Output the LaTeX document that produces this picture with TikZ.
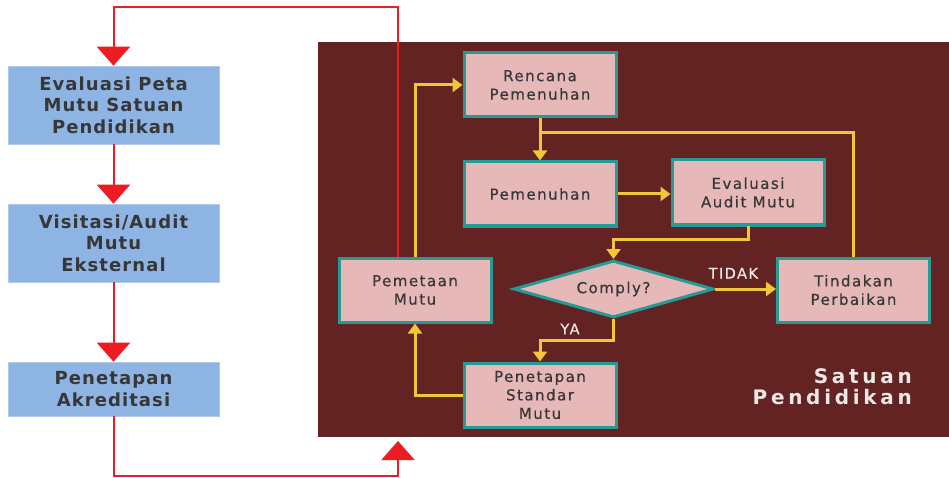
\documentclass[tikz,border=0pt]{standalone}
\usepackage{fontspec}
\setmainfont{DejaVu Sans}
\newfontfamily\outerfont[LetterSpace=6]{DejaVu Sans}
\newfontfamily\stagefont[LetterSpace=10,FakeBold=0.6]{DejaVu Sans}
\newfontfamily\labelfont[LetterSpace=10,FakeBold=0.4]{DejaVu Sans}
\newfontfamily\panelfont[LetterSpace=18.5]{DejaVu Sans}
\usetikzlibrary{arrows.meta,shapes.geometric}
\definecolor{panelbg}{RGB}{98,35,34}
\definecolor{boxblue}{RGB}{141,180,226}
\definecolor{boxpink}{RGB}{230,185,184}
\definecolor{boxteal}{RGB}{38,155,150}
\definecolor{flowyellow}{RGB}{244,196,58}
\definecolor{loopred}{RGB}{237,28,36}
\definecolor{inktext}{RGB}{55,55,55}
\definecolor{paneltext}{RGB}{238,232,232}
\tikzset{
  outerbox/.style={fill=boxblue, draw=boxblue!70!white, line width=0.6pt,
    minimum width=211pt, inner sep=0pt, align=center, text=inktext,
    font=\outerfont\bfseries\fontsize{18}{21.5}\selectfont},
  stagebox/.style={fill=boxpink, draw=boxteal, line width=3pt,
    minimum width=152pt, minimum height=64pt, inner sep=0pt, align=center,
    text=inktext, font=\stagefont\fontsize{15}{18.5}\selectfont},
  decision/.style={diamond, aspect=3.4, fill=boxpink, draw=boxteal, line width=3pt,
    minimum width=200pt, minimum height=57pt, inner sep=0pt, text=inktext,
    font=\stagefont\fontsize{15}{18}\selectfont},
  redflow/.style={draw=loopred, line width=2pt},
  redtip/.style={-{Triangle[width=33pt,length=19pt]}},
  yellowflow/.style={draw=flowyellow, line width=3pt},
  yellowtip/.style={-{Triangle[width=14pt,length=10pt]}},
  flowlabel/.style={text=paneltext, font=\labelfont\fontsize{14.5}{16}\selectfont, inner sep=0pt},
}
\begin{document}
\begin{tikzpicture}[x=1pt,y=-1pt]
  \useasboundingbox (0,0) rectangle (949,478);
  % the school panel
  \fill[panelbg] (318,42) rectangle (949,437);
  \node[anchor=north east, align=right, inner sep=0pt, text=paneltext,
        font=\panelfont\bfseries\fontsize{20}{21.5}\selectfont] (panel) at (912,368)
        {Satuan\\Pendidikan};

  % external accreditation chain
  \node[outerbox, minimum height=78pt] (ev) at (113.5,105) {Evaluasi Peta\\Mutu Satuan\\Pendidikan};
  \node[outerbox, minimum height=78pt] (va) at (113.5,243) {Visitasi/Audit\\Mutu\\Eksternal};
  \node[outerbox, minimum height=54pt] (pa) at (113.5,389) {Penetapan\\Akreditasi};

  % internal quality cycle
  \node[stagebox] (rp) at (540,85) {Rencana\\Pemenuhan};
  \node[stagebox] (pn) at (540,194) {Pemenuhan};
  \node[stagebox, minimum height=65pt] (ea) at (748,192.5) {Evaluasi\\Audit Mutu};
  \node[decision] (cm) at (613.5,289) {Comply?};
  \node[stagebox] (tp) at (853.5,290) {Tindakan\\Perbaikan};
  \node[stagebox] (pm) at (415,290) {Pemetaan\\Mutu};
  \node[stagebox] (ps) at (540,395) {Penetapan\\Standar\\Mutu};

  % yellow connectors
  \coordinate (jn) at (540,133);
  \draw[yellowflow, yellowtip] (pm.north) |- (rp.west);
  \draw[yellowflow, yellowtip] (rp.south) -- (pn.north);
  \draw[yellowflow] (tp.north) |- (jn);
  \draw[yellowflow, yellowtip] (pn.east) -- (pn.east -| ea.west);
  \draw[yellowflow, yellowtip] (ea.south) -- ++(0,13) -| (cm.north);
  \draw[yellowflow, yellowtip] (cm.east) -- (cm.east -| tp.west)
    node[flowlabel, pos=0.3, above=9pt] (tidak) {TIDAK};
  \draw[yellowflow, yellowtip] (cm.south) -- ++(0,21) -| (ps.north);
  \node[flowlabel] (ya) at (570,329) {YA};
  \draw[yellowflow, yellowtip] (ps.west) -| (pm.south);

  % red accreditation loop
  \coordinate (rtop) at (398,7);
  \coordinate (rbot) at (398,476);
  \coordinate (rtip) at (398,441);
  \draw[redflow, redtip] (pm.north -| rtop) -- (rtop) -| (ev.north);
  \draw[redflow, redtip] (ev.south) -- (va.north);
  \draw[redflow, redtip] (va.south) -- (pa.north);
  \draw[redflow, redtip] (pa.south) |- (rbot) -- (rtip);
\end{tikzpicture}
\end{document}
